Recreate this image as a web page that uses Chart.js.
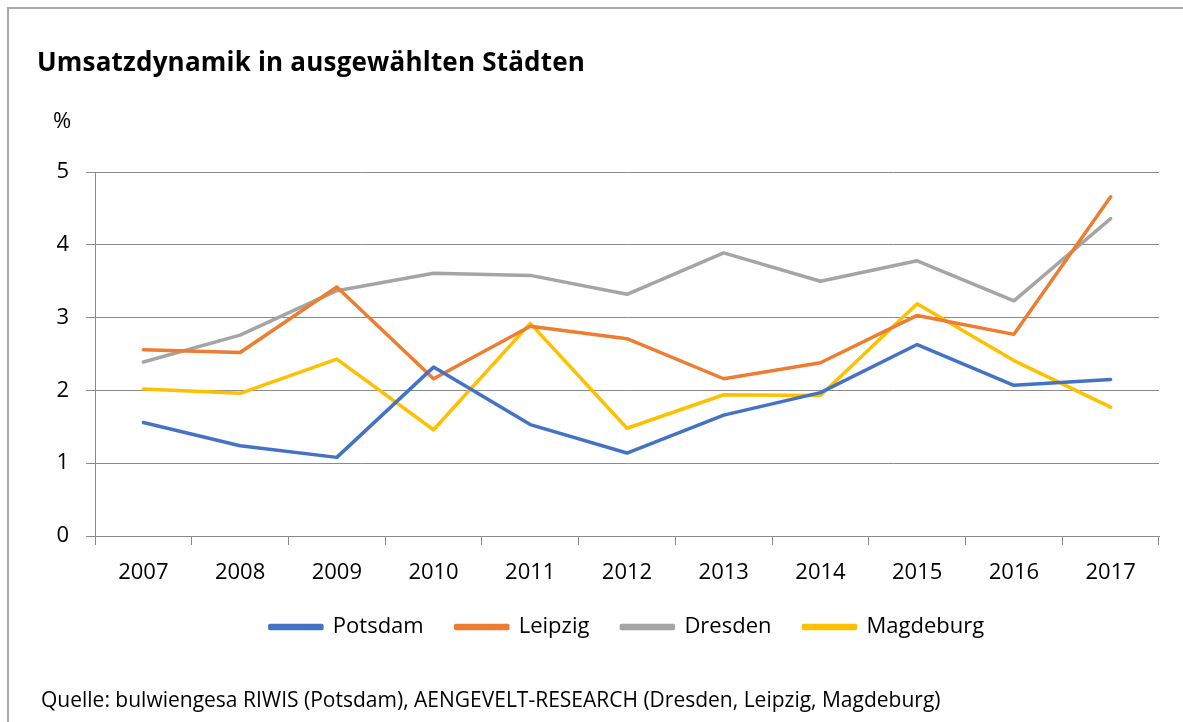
<!DOCTYPE html>
<html lang="de">
<head>
<meta charset="utf-8">
<title>Umsatzdynamik in ausgewählten Städten</title>
<script src="https://cdn.jsdelivr.net/npm/chart.js@4/dist/chart.umd.min.js"></script>
<style>
  html, body { margin: 0; padding: 0; background: #fff; }
  body { width: 1183px; height: 722px; position: relative; overflow: hidden; font-family: "Open Sans", sans-serif; }
  #frame { position: absolute; left: 7px; top: 7px; right: -10px; bottom: -10px; border-top: 2px solid #a9a9a9; border-left: 2px solid #a9a9a9; }
  #wrap { position: absolute; left: 0; top: 0; width: 1183px; height: 722px; }
  .txt { position: absolute; color: #000; white-space: nowrap; }
  #title { left: 37px; top: 43px; font-size: 26px; font-weight: bold; letter-spacing: 0.2px; }
  #unit { left: 53px; top: 104px; font-size: 22px; }
  #source { left: 41px; top: 685px; font-size: 21px; }
</style>
</head>
<body>
<div id="frame"></div>
<div id="wrap"><canvas id="chart"></canvas></div>
<div class="txt" id="title">Umsatzdynamik in ausgewählten Städten</div>
<div class="txt" id="unit">%</div>
<div class="txt" id="source">Quelle: bulwiengesa RIWIS (Potsdam), AENGEVELT-RESEARCH (Dresden, Leipzig, Magdeburg)</div>
<script>
var jahre = ['2007', '2008', '2009', '2010', '2011', '2012', '2013', '2014', '2015', '2016', '2017'];
var potsdam   = [1.56, 1.24, 1.08, 2.32, 1.53, 1.14, 1.66, 1.97, 2.63, 2.07, 2.15];
var leipzig   = [2.56, 2.52, 3.42, 2.16, 2.88, 2.71, 2.16, 2.38, 3.03, 2.77, 4.66];
var dresden   = [2.39, 2.76, 3.37, 3.61, 3.58, 3.32, 3.89, 3.50, 3.78, 3.23, 4.36];
var magdeburg = [2.02, 1.96, 2.43, 1.46, 2.92, 1.48, 1.94, 1.93, 3.19, 2.41, 1.77];
var yTicks = [0, 1, 2, 3, 4, 5];

function linie(name, werte, farbe) {
  return {
    label: name,
    data: werte,
    borderColor: farbe,
    backgroundColor: farbe,
    borderWidth: 3.5,
    borderJoinStyle: 'round',
    borderCapStyle: 'round',
    pointRadius: 0,
    pointHoverRadius: 0,
    tension: 0
  };
}

var achse = '#8a8a8a';
var schrift = { family: '"Open Sans", sans-serif', size: 22 };

// Legende unter der Zeichenfläche mittig ausrichten statt unter der ganzen Breite
var legendeVerschieben = {
  id: 'legendeVerschieben',
  afterLayout: function (chart) {
    var lg = chart.legend;
    var mitte = (chart.chartArea.left + chart.chartArea.right) / 2;
    var dx = mitte - (lg.left + lg.right) / 2;
    lg.left += dx;
    lg.right += dx;
  }
};

var ctx = document.getElementById('chart').getContext('2d');
var chart = new Chart(ctx, {
  type: 'line',
  data: {
    labels: jahre,
    datasets: [
      linie('Potsdam', potsdam, '#4472C4'),
      linie('Leipzig', leipzig, '#ED7D31'),
      linie('Dresden', dresden, '#A5A5A5'),
      linie('Magdeburg', magdeburg, '#FFC000')
    ]
  },
  options: {
    responsive: true,
    maintainAspectRatio: false,
    animation: false,
    layout: { padding: { top: 172, left: 0, right: 24, bottom: 74 } },
    scales: {
      x: {
        offset: true,
        grid: { offset: true, drawOnChartArea: false, drawTicks: true, tickLength: 9, color: achse, lineWidth: 1 },
        border: { display: true, color: achse, width: 1 },
        ticks: { color: '#000', font: schrift, padding: 15, maxRotation: 0, autoSkip: false },
        afterFit: function (s) { s.height = 48; }
      },
      y: {
        min: 0,
        max: 5,
        afterBuildTicks: function (s) { s.ticks = yTicks.map(function (v) { return { value: v }; }); },
        grid: { color: achse, lineWidth: 1, tickLength: 9 },
        border: { display: true, color: achse, width: 1 },
        ticks: { color: '#000', font: schrift, padding: 17 },
        afterFit: function (s) { s.width = 95; }
      }
    },
    plugins: {
      legend: {
        position: 'bottom',
        labels: { color: '#000', font: schrift, boxWidth: 52, boxHeight: 3, padding: 32 }
      },
      tooltip: { enabled: false }
    }
  },
  plugins: [legendeVerschieben]
});
</script>
</body>
</html>
